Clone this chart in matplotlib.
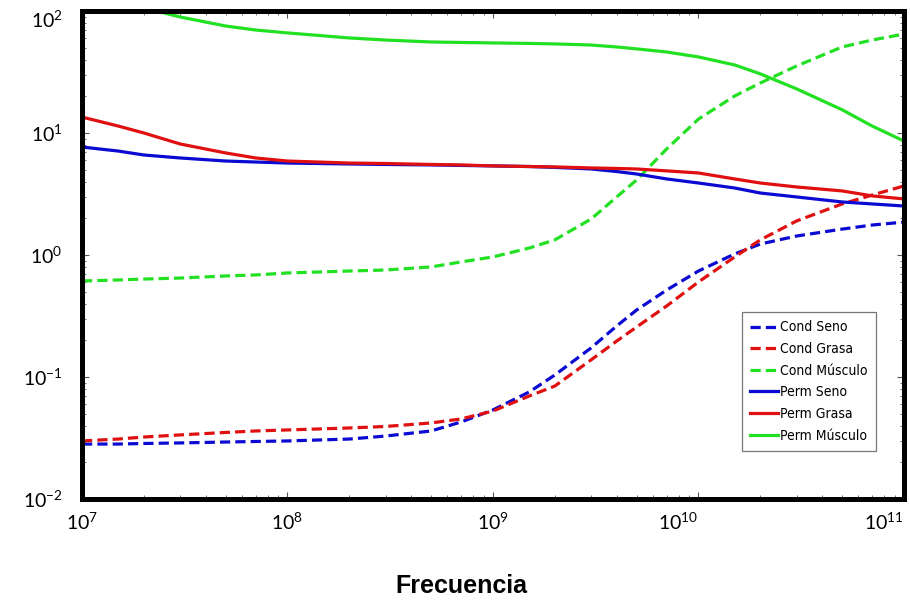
import numpy as np
import matplotlib
matplotlib.use("Agg")
import matplotlib.pyplot as plt
from matplotlib.ticker import FixedLocator, LogLocator, NullFormatter

plt.rcParams['mathtext.fontset'] = 'custom'
plt.rcParams['mathtext.rm'] = 'Lato'
plt.rcParams['mathtext.it'] = 'Lato'

# frecuencias (Hz)
freq = [1e7, 1.5e7, 2e7, 3e7, 5e7, 7e7, 1e8, 2e8, 3e8, 5e8, 7e8, 1e9,
        1.5e9, 2e9, 3e9, 4e9, 5e9, 7e9, 1e10, 1.5e10, 2e10, 3e10, 5e10,
        7e10, 1e11]

# conductividad
cond_seno = [0.0282, 0.0282, 0.0285, 0.0288, 0.0293, 0.0296, 0.0299, 0.0310,
             0.0328, 0.0361, 0.0428, 0.0537, 0.0753, 0.1038, 0.173, 0.262,
             0.354, 0.516, 0.739, 1.02, 1.23, 1.43, 1.63, 1.76, 1.86]
cond_grasa = [0.0299, 0.0310, 0.0322, 0.0335, 0.0351, 0.0361, 0.0368, 0.0382,
              0.0393, 0.0420, 0.0453, 0.0526, 0.0698, 0.0843, 0.138, 0.197,
              0.257, 0.382, 0.601, 0.963, 1.33, 1.90, 2.62, 3.10, 3.68]
cond_musculo = [0.612, 0.624, 0.635, 0.647, 0.673, 0.686, 0.712, 0.739,
                0.753, 0.798, 0.877, 0.964, 1.14, 1.33, 1.97, 2.99, 4.12,
                7.40, 13.0, 20.1, 25.7, 35.4, 50.7, 57.8, 64.7]

# permitividad
perm_seno = [7.67, 7.11, 6.60, 6.24, 5.89, 5.78, 5.67, 5.57, 5.52, 5.47,
             5.42, 5.37, 5.31, 5.22, 5.07, 4.83, 4.61, 4.20, 3.89, 3.54,
             3.22, 2.99, 2.72, 2.62, 2.52]
perm_grasa = [13.5, 11.4, 10.0, 8.13, 6.86, 6.24, 5.89, 5.67, 5.62, 5.52,
              5.47, 5.37, 5.31, 5.27, 5.17, 5.12, 5.07, 4.89, 4.70, 4.20,
              3.89, 3.61, 3.35, 3.05, 2.88]
perm_musculo = [138, 118, 106, 89.3, 75.3, 69.8, 66.1, 60.1, 57.8, 55.7,
                55.2, 54.7, 54.2, 53.7, 52.6, 50.7, 48.9, 46.1, 42.0, 36.1,
                30.5, 23.0, 15.5, 11.4, 8.59]

xticks = [1e7, 1e8, 1e9, 1e10, 1e11]
xticklabels = [r'$10^{7}$', r'$10^{8}$', r'$10^{9}$', r'$10^{10}$', r'$10^{11}$']
yticks = [1e-2, 1e-1, 1e0, 1e1, 1e2]
yticklabels = [r'$10^{-2}$', r'$10^{-1}$', r'$10^{0}$', r'$10^{1}$', r'$10^{2}$']

azul = '#0a0ad2'
rojo = '#e01010'
verde = '#22e022'

fig = plt.figure(figsize=(9.1, 6.03), dpi=100)
ax = fig.add_axes([0.0901, 0.1725, 0.9033, 0.8093])

lw = 2.3
dash = (3.2, 1.6)
ax.plot(freq, cond_seno, color=azul, lw=lw, dashes=dash, label='Cond Seno')
ax.plot(freq, cond_grasa, color=rojo, lw=lw, dashes=dash, label='Cond Grasa')
ax.plot(freq, cond_musculo, color=verde, lw=lw, dashes=dash, label='Cond Músculo')
ax.plot(freq, perm_seno, color=azul, lw=lw, label='Perm Seno')
ax.plot(freq, perm_grasa, color=rojo, lw=lw, label='Perm Grasa')
ax.plot(freq, perm_musculo, color=verde, lw=lw, label='Perm Músculo')

ax.set_xscale('log')
ax.set_yscale('log')
ax.set_xlim(1e7, 1e11)
ax.set_ylim(1e-2, 1e2)

for s in ax.spines.values():
    s.set_linewidth(3.6)
    s.set_color('black')

ax.xaxis.set_major_locator(FixedLocator(xticks))
ax.yaxis.set_major_locator(FixedLocator(yticks))
ax.xaxis.set_minor_locator(LogLocator(base=10, subs=np.arange(2, 10)))
ax.yaxis.set_minor_locator(LogLocator(base=10, subs=np.arange(2, 10)))
ax.xaxis.set_minor_formatter(NullFormatter())
ax.yaxis.set_minor_formatter(NullFormatter())
ax.set_xticklabels(xticklabels)
ax.set_yticklabels(yticklabels)

ax.tick_params(which='both', direction='in', top=True, right=True, color='#555555')
ax.tick_params(which='major', length=5, width=0.8, labelsize=14, pad=10)
ax.tick_params(which='minor', length=3, width=0.6)
ax.tick_params(axis='y', which='major', pad=14)

for lab in ax.get_xticklabels()[3:]:
    lab.set_horizontalalignment('right')
# la etiqueta 10^2 queda un poco por debajo del borde superior
ax.get_yticklabels()[-1].set_verticalalignment('top')

ax.set_xlabel('Frecuencia', fontsize=18, fontweight='bold',
              family=['Liberation Sans', 'DejaVu Sans'])
ax.xaxis.set_label_coords(0.462, -0.153)

leg = ax.legend(loc='upper right', bbox_to_anchor=(0.966, 0.383),
                prop={'family': ['DejaVu Sans'], 'stretch': 'condensed', 'size': 10},
                handlelength=2.0, handletextpad=0.15, labelspacing=0.55,
                borderpad=0.6, borderaxespad=0, fancybox=False,
                framealpha=1, edgecolor='#777777')
leg.get_frame().set_linewidth(0.9)

fig.savefig('out.png', dpi=100)
